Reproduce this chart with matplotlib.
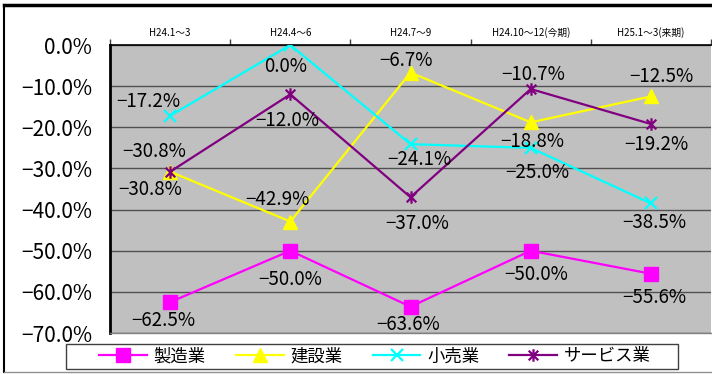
import matplotlib
matplotlib.use("Agg")
import matplotlib.pyplot as plt
from matplotlib.path import Path
from matplotlib.lines import Line2D
from matplotlib.patches import Rectangle

plt.rcParams['font.family'] = ['Noto Sans CJK JP', 'DejaVu Sans']

categories = ["H24.1～3", "H24.4～6", "H24.7～9", "H24.10～12(今期)", "H25.1～3(来期)"]
series_names = ["製造業", "建設業", "小売業", "サービス業"]
seizo = [-62.5, -50.0, -63.6, -50.0, -55.6]
kensetsu = [-30.8, -42.9, -6.7, -18.8, -12.5]
kouri = [-17.2, 0.0, -24.1, -25.0, -38.5]
service = [-30.8, -12.0, -37.0, -10.7, -19.2]
yticks = [0, -10, -20, -30, -40, -50, -60, -70]

# label offsets in pixels (dx, dy downward positive) -- layout only
off_seizo = [(-7, 18), (0, 29), (-2, 18), (5, 24), (3, 24)]
off_kensetsu = [(-20, 18), (-13, -22), (-4, -12), (2, 19), (10, -20)]
off_kouri = [(-22, -14), (-5, 21), (9, 15), (7, 25), (3, 19)]
off_service = [(-16, -20), (-3, 26), (7, 26), (2, -15), (5, 21)]

# asterisk marker (X + vertical line)
ast = Path([(-1, -1), (1, 1), (-1, 1), (1, -1), (0, -1.3), (0, 1.3)],
           [Path.MOVETO, Path.LINETO, Path.MOVETO, Path.LINETO, Path.MOVETO, Path.LINETO])

W, H = 712, 374
fig = plt.figure(figsize=(W / 100, H / 100), dpi=100)
ax = fig.add_axes([110 / W, (H - 333) / H, (711 - 110) / W, (333 - 45) / H])
ax.set_facecolor('#C0C0C0')

x = list(range(len(categories)))
styles = [
    (seizo, '#FF00FF', 's', 9.5, off_seizo),
    (kensetsu, '#FFFF00', '^', 10.5, off_kensetsu),
    (kouri, '#00FFFF', 'x', 9, off_kouri),
    (service, '#800080', ast, 9, off_service),
]
handles = []
for (vals, col, mk, ms, offs), name in zip(styles, series_names):
    ln, = ax.plot(x, vals, color=col, lw=1.6, marker=mk, markersize=ms,
                  markeredgewidth=1.6 if mk in ('x',) or mk is ast else 1,
                  markeredgecolor=col, markerfacecolor=col, label=name, zorder=3)
    handles.append(ln)
    for xi, v, (dx, dy) in zip(x, vals, offs):
        ax.annotate(f"{v:.1f}%".replace('-', '−'), (xi, v), xytext=(dx, -dy),
                    textcoords='offset pixels', ha='center', va='center',
                    fontsize=13.5, color='black', zorder=4)

ax.set_xlim(-0.5, len(categories) - 0.5)
ax.set_ylim(-70, 0)
ax.set_yticks(yticks)
ax.set_yticklabels([f"{v:.1f}%".replace('-', '−') for v in yticks], fontsize=15)
ax.tick_params(axis='y', length=0, pad=13)
ax.yaxis.grid(True, color='#505050', lw=1)
ax.set_axisbelow(True)

ax.xaxis.tick_top()
ax.set_xticks([i - 0.5 for i in range(len(categories) + 1)])
ax.set_xticklabels([])
ax.set_xticks(x, minor=True)
ax.set_xticklabels(categories, minor=True, fontsize=7)
ax.tick_params(axis='x', which='major', direction='out', length=4, color='#404040', width=1)
ax.tick_params(axis='x', which='minor', length=0, pad=5)

ax.spines['left'].set_color('black')
ax.spines['left'].set_linewidth(2)
ax.spines['top'].set_color('black')
ax.spines['top'].set_linewidth(1.2)
ax.spines['bottom'].set_color('#808080')
ax.spines['bottom'].set_linewidth(1)
ax.spines['right'].set_visible(False)

# legend box
fig.add_artist(Rectangle((66 / W, (H - 369) / H), (678 - 66) / W, 25 / H,
                         transform=fig.transFigure, facecolor='white',
                         edgecolor='#404040', lw=1, zorder=5))
leg = fig.legend(handles=handles, loc='center', ncol=4,
                 bbox_to_anchor=(375 / W, (H - 356.5) / H),
                 fontsize=12.5, frameon=False,
                 handlelength=2.76, handletextpad=0.4, borderpad=0.2,
                 borderaxespad=0, columnspacing=1.72)
leg.set_zorder(6)

# outer chart frame
fig.add_artist(Line2D([4 / W, 4 / W], [(H - 372) / H, (H - 5) / H], color='black', lw=1.5, transform=fig.transFigure))
fig.add_artist(Line2D([4 / W, 1], [(H - 5) / H, (H - 5) / H], color='black', lw=2.5, transform=fig.transFigure))
fig.add_artist(Line2D([4 / W, 1], [(H - 372) / H, (H - 372) / H], color='#909090', lw=1, transform=fig.transFigure))

fig.savefig('out.png', dpi=100)
